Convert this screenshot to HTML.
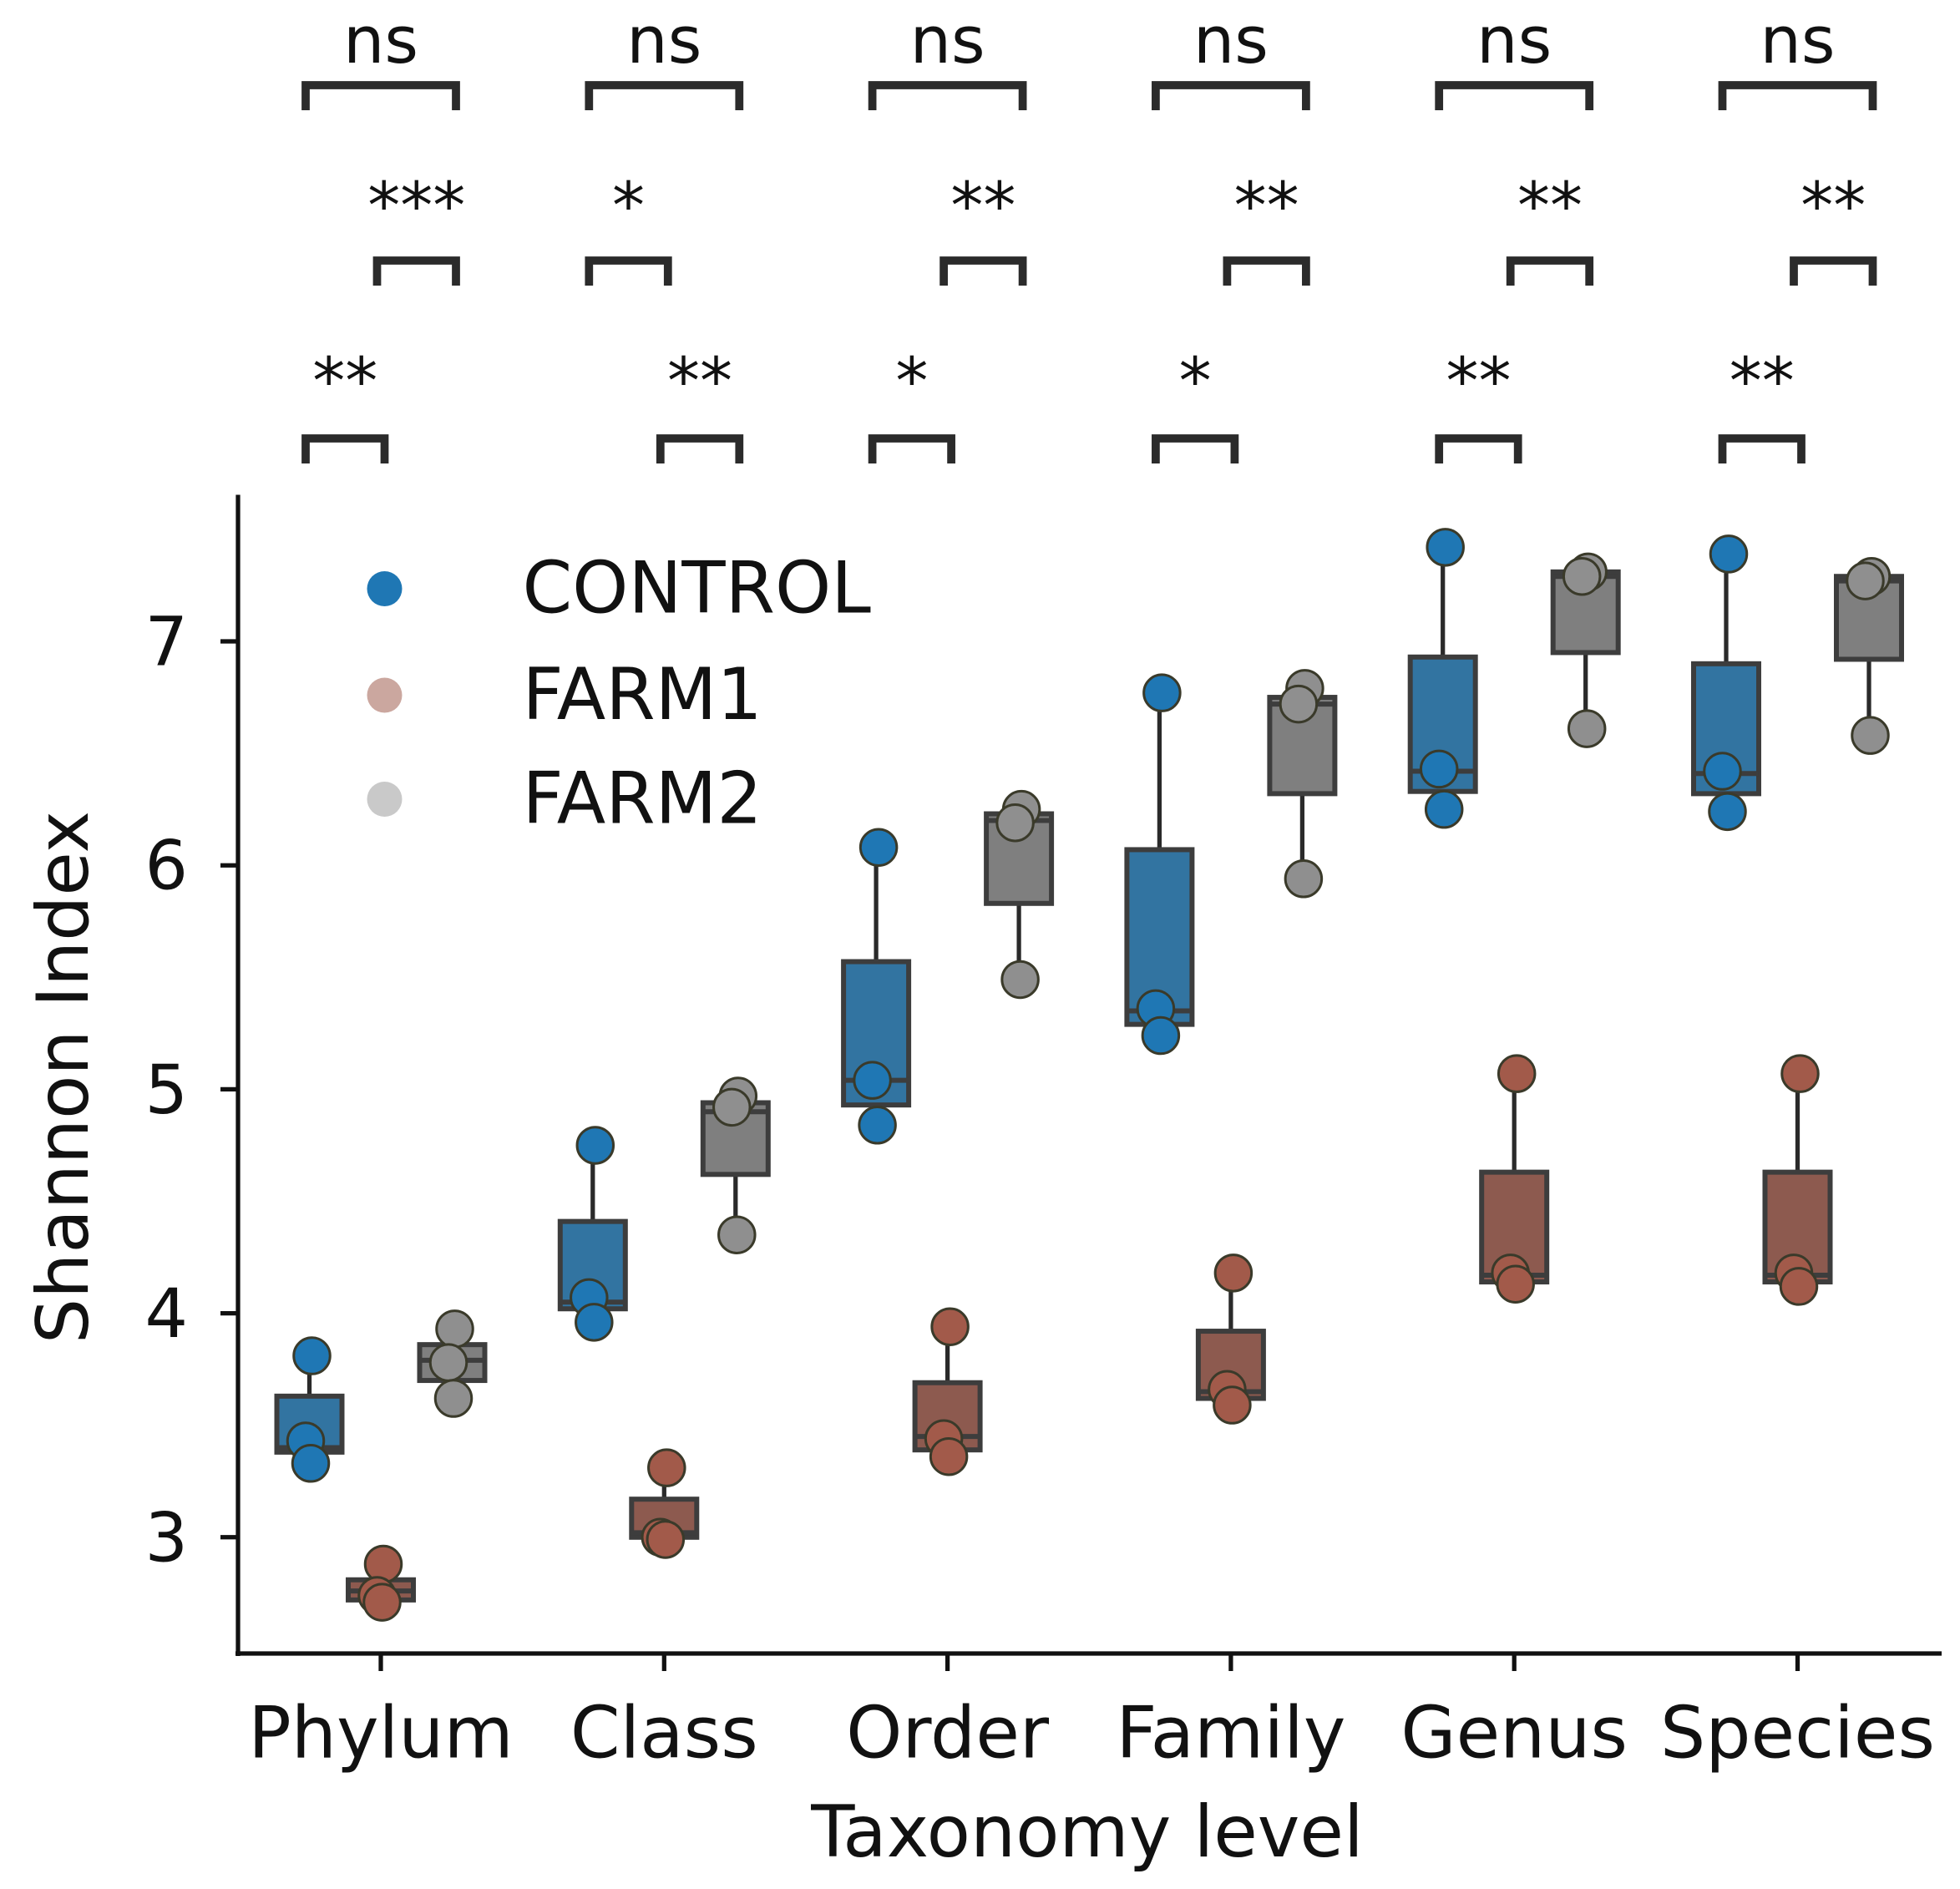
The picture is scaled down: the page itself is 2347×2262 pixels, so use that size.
<!DOCTYPE html>
<html><head><meta charset="utf-8">
<style>html,body{margin:0;padding:0;background:#fff}svg{display:block}text{font-family:"DejaVu Sans","Liberation Sans",sans-serif;fill:#111}</style>
</head><body>
<svg id="chart" width="2347" height="2262" viewBox="0 0 1564.67 1508" xmlns="http://www.w3.org/2000/svg">
<g id="sig"></g>
<g id="plot"></g>
<g id="axes"></g>
<g id="legend">
  <circle cx="307" cy="470" r="14" fill="#1f77b4"/>
  <text x="417" y="489" font-size="57">CONTROL</text>
  <circle cx="307" cy="555" r="14" fill="#cba79f"/>
  <text x="417" y="574" font-size="57">FARM1</text>
  <circle cx="307" cy="638" r="14" fill="#c9c9c9"/>
  <text x="417" y="657" font-size="57">FARM2</text>
</g>
</svg>
<script>
const categories = ["Phylum","Class","Order","Family","Genus","Species"];
const groups = ["CONTROL","FARM1","FARM2"];
const yTicks = [3,4,5,6,7];
// [q1, median, q3] per category, per group
const controlBox = [[3.38,3.40,3.63],[4.02,4.05,4.41],[4.93,5.04,5.57],[5.29,5.35,6.07],[6.33,6.42,6.93],[6.32,6.41,6.90]];
const farm1Box   = [[2.72,2.76,2.81],[3.00,3.02,3.17],[3.39,3.45,3.69],[3.62,3.65,3.92],[4.14,4.17,4.63],[4.14,4.17,4.63]];
const farm2Box   = [[3.70,3.79,3.86],[4.62,4.90,4.94],[5.83,6.20,6.23],[6.32,6.72,6.75],[6.95,7.29,7.31],[6.92,7.27,7.29]];
// sample points per category
const controlPts = [[3.81,3.43,3.33],[4.75,4.07,3.96],[6.08,5.04,4.84],[6.77,5.36,5.24],[7.42,6.43,6.25],[7.39,6.42,6.24]];
const farm1Pts   = [[2.88,2.74,2.71],[3.31,3.00,2.99],[3.94,3.44,3.36],[4.18,3.66,3.59],[5.07,4.18,4.13],[5.07,4.18,4.12]];
const farm2Pts   = [[3.93,3.78,3.62],[4.97,4.92,4.35],[6.25,6.19,5.49],[6.79,6.72,5.94],[7.31,7.29,6.61],[7.29,7.27,6.58]];
// significance: [category index, group a, group b, row, label]
const sigTests = [
 [0,0,2,0,"ns"],[1,0,2,0,"ns"],[2,0,2,0,"ns"],[3,0,2,0,"ns"],[4,0,2,0,"ns"],[5,0,2,0,"ns"],
 [0,1,2,1,"***"],[1,0,1,1,"*"],[2,1,2,1,"**"],[3,1,2,1,"**"],[4,1,2,1,"**"],[5,1,2,1,"**"],
 [0,0,1,2,"**"],[1,1,2,2,"**"],[2,0,1,2,"*"],[3,0,1,2,"*"],[4,0,1,2,"**"],[5,0,1,2,"**"]
];

const NS="http://www.w3.org/2000/svg";
function mk(tag,attrs,parent){const e=document.createElementNS(NS,tag);for(const k in attrs)e.setAttribute(k,attrs[k]);parent.appendChild(e);return e;}
const xCat=i=>304+i*226.2;
const xGrp=(i,g)=>xCat(i)+(g-1)*57;
const yVal=v=>512+(7-v)*178.8;

const boxes=[controlBox,farm1Box,farm2Box];
const pts=[controlPts,farm1Pts,farm2Pts];
const boxFill=["#3274a1","#8d5a4f","#7f7f7f"];
const ptFill=["#1f77b4","#a25a4a","#8f8f8f"];
const plot=document.getElementById('plot');
const jit=[2,-3,1];
categories.forEach((c,i)=>{
  groups.forEach((g,gi)=>{
    const b=boxes[gi][i], p=pts[gi][i], cx=xGrp(i,gi), hw=26;
    const mx=Math.max(...p), mn=Math.min(...p);
    const grp=mk('g',{},plot);
    
    
    mk('line',{x1:cx,x2:cx,y1:yVal(b[2]),y2:yVal(mx),stroke:'#2a2a2a','stroke-width':3.5},grp);
    mk('line',{x1:cx,x2:cx,y1:yVal(b[0]),y2:yVal(mn),stroke:'#2a2a2a','stroke-width':3.5},grp);
    mk('line',{x1:cx-6,x2:cx+16,y1:yVal(mx),y2:yVal(mx),stroke:'#111','stroke-width':3},grp);
    mk('line',{x1:cx-6,x2:cx+16,y1:yVal(mn),y2:yVal(mn),stroke:'#111','stroke-width':3},grp);
    mk('rect',{x:cx-hw,y:yVal(b[2]),width:2*hw,height:yVal(b[0])-yVal(b[2]),fill:boxFill[gi],stroke:'#3d3d3d','stroke-width':4},grp);
    mk('line',{x1:cx-hw,x2:cx+hw,y1:yVal(b[1]),y2:yVal(b[1]),stroke:'#3d3d3d','stroke-width':4},grp);
    p.forEach((v,k)=>{
      const pt=mk('circle',{cx:cx+jit[k],cy:yVal(v),r:14.5,fill:ptFill[gi],stroke:'#3a3a2a','stroke-width':2},grp);
      
      
    });
  });
});

const axes=document.getElementById('axes');
const sp1=mk('line',{x1:190,x2:190,y1:395,y2:1322,stroke:'#111','stroke-width':3.5},axes);


const sp2=mk('line',{x1:188,x2:1550,y1:1320,y2:1320,stroke:'#111','stroke-width':3.5},axes);


yTicks.forEach(t=>{
  mk('line',{x1:176,x2:190,y1:yVal(t),y2:yVal(t),stroke:'#111','stroke-width':3.5},axes);
  const tx=mk('text',{x:150,y:yVal(t)+19,'font-size':54,'text-anchor':'end'},axes);
  tx.textContent=t;
  
  
});
categories.forEach((c,i)=>{
  mk('line',{x1:xCat(i),x2:xCat(i),y1:1320,y2:1334,stroke:'#111','stroke-width':3.5},axes);
  const tx=mk('text',{x:xCat(i),y:1403,'font-size':57,'text-anchor':'middle'},axes);
  tx.textContent=c;
  
  
});
const xt=mk('text',{x:868,y:1482,'font-size':57,'text-anchor':'middle'},axes);
xt.textContent='Taxonomy level';


const yt=mk('text',{x:0,y:0,'font-size':57,'text-anchor':'middle',transform:'translate(70,860) rotate(-90)'},axes);
yt.textContent='Shannon Index';



const sig=document.getElementById('sig');
const rowTop=[68,208,350], rowText=[50,182,322];
sigTests.forEach(s=>{
  const [ci,a,b,row,lab]=s;
  const x1=xGrp(ci,a)-3, x2=xGrp(ci,b)+3, y=rowTop[row];
  const gp=mk('g',{},sig);
  
  
  mk('path',{d:`M${x1},${y+20} L${x1},${y} L${x2},${y} L${x2},${y+20}`,fill:'none',stroke:'#2b2b2b','stroke-width':6.5},gp);
  const t=mk('text',{x:(x1+x2)/2,y:rowText[row],'font-size':52,'text-anchor':'middle'},gp);
  t.textContent=lab;
});
</script>
</body></html>
